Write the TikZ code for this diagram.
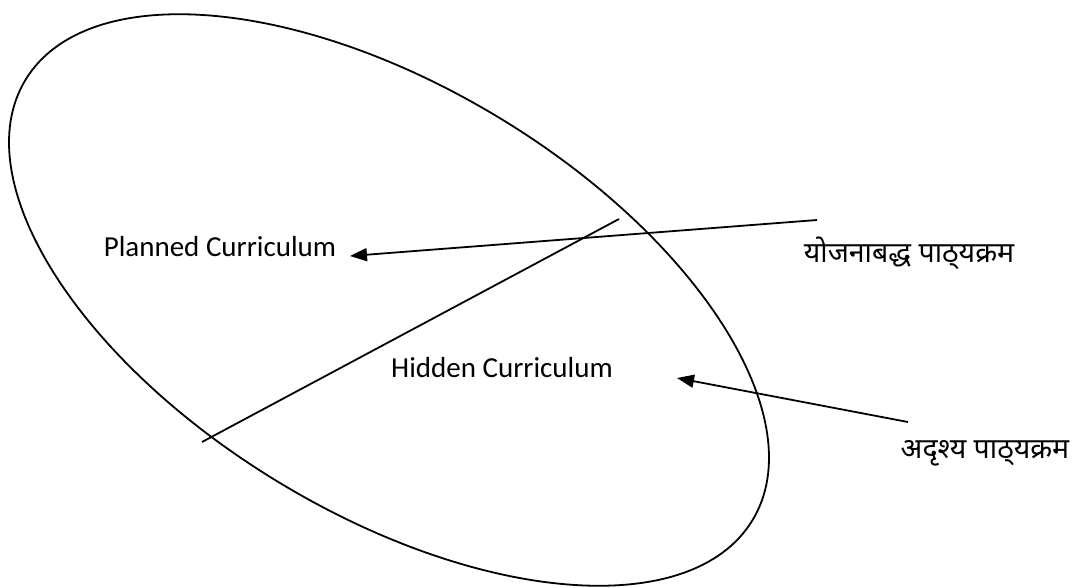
\documentclass[tikz,border=0pt]{standalone}
\usepackage{fontspec}
\setmainfont{Carlito}
\newfontfamily\devfont[Script=Devanagari]{Noto Sans}
\usetikzlibrary{arrows.meta}
\tikzset{
  outline/.style={line width=1.8pt},
  link/.style={line width=1.8pt},
  pointer/.style={line width=1.8pt,-{Triangle[length=17pt,width=13pt]}},
  entext/.style={font=\fontsize{29}{34}\selectfont,inner sep=0pt},
  devtext/.style={font=\devfont\fontsize{28.5}{34}\selectfont,inner sep=0pt}
}
\begin{document}
\begin{tikzpicture}[x=1pt,y=1pt]
\useasboundingbox (0,0) rectangle (1080,-587);
% ellipse
\draw[outline,rotate around={-31.2:(389,-300)}] (389,-300) ellipse [x radius=425, y radius=213];
% dividing line
\coordinate (l1) at (202,-442);
\coordinate (l2) at (619,-219);
\draw[link] (l1) -- (l2);
% labels
\node[entext] (pc) at (220,-247) {Planned Curriculum};
\node[entext] (hc) at (502,-368) {Hidden Curriculum};
\node[devtext] (yp) at (909,-253) {योजनाबद्ध पाठ्‌यक्रम};
\node[devtext] (ap) at (985,-453) {अदृश्य पाठ्‌यक्रम};
% arrows
\coordinate (a1s) at (817,-220);
\coordinate (a1e) at (350,-256);
\coordinate (a2s) at (908,-422);
\coordinate (a2e) at (677,-378);
\draw[pointer] (a1s) -- (a1e);
\draw[pointer] (a2s) -- (a2e);
\end{tikzpicture}
\end{document}
